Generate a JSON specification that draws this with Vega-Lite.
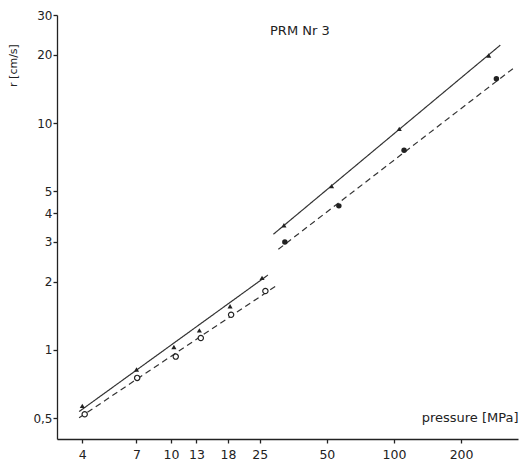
{
  "$schema": "https://vega.github.io/schema/vega-lite/v6.json",
  "width": 461,
  "height": 424,
  "autosize": "none",
  "padding": {"left": 57, "top": 15, "right": 14, "bottom": 26},
  "background": "white",
  "config": {
    "view": {"stroke": null},
    "font": "DejaVu Sans",
    "axis": {
      "grid": false,
      "domainColor": "#222",
      "domainWidth": 1.3,
      "tickColor": "#222",
      "tickWidth": 1.3,
      "tickSize": 4,
      "labelColor": "#222",
      "labelFont": "DejaVu Sans",
      "labelFontSize": 12,
      "titleFont": "DejaVu Sans",
      "titleColor": "#222",
      "titleFontWeight": "normal"
    }
  },
  "datasets": {
    "lines": [
      {"seg": "A", "style": "solid", "p": 3.87, "r": 0.535},
      {"seg": "A", "style": "solid", "p": 27.2, "r": 2.14},
      {"seg": "B", "style": "dashed", "p": 3.87, "r": 0.502},
      {"seg": "B", "style": "dashed", "p": 29.9, "r": 1.93},
      {"seg": "C", "style": "solid", "p": 28.8, "r": 3.24},
      {"seg": "C", "style": "solid", "p": 300, "r": 22.1},
      {"seg": "D", "style": "dashed", "p": 30.3, "r": 2.78},
      {"seg": "D", "style": "dashed", "p": 352, "r": 17.8}
    ],
    "points": [
      {"kind": "triangle", "p": 4, "r": 0.567},
      {"kind": "triangle", "p": 7, "r": 0.82},
      {"kind": "triangle", "p": 10.3, "r": 1.03},
      {"kind": "triangle", "p": 13.4, "r": 1.22},
      {"kind": "triangle", "p": 18.4, "r": 1.56},
      {"kind": "triangle", "p": 25.6, "r": 2.08},
      {"kind": "triangle", "p": 32.1, "r": 3.55},
      {"kind": "triangle", "p": 52.5, "r": 5.28},
      {"kind": "triangle", "p": 105.6, "r": 9.44},
      {"kind": "triangle", "p": 266, "r": 19.9},
      {"kind": "open", "p": 4.1, "r": 0.521},
      {"kind": "open", "p": 7.05, "r": 0.753},
      {"kind": "open", "p": 10.5, "r": 0.935},
      {"kind": "open", "p": 13.6, "r": 1.13},
      {"kind": "open", "p": 18.6, "r": 1.43},
      {"kind": "open", "p": 26.5, "r": 1.82},
      {"kind": "filled", "p": 32.4, "r": 2.99},
      {"kind": "filled", "p": 56.6, "r": 4.32},
      {"kind": "filled", "p": 111, "r": 7.6},
      {"kind": "filled", "p": 288, "r": 15.7}
    ],
    "title": [{"label": "PRM  Nr 3", "p": 27.8, "r": 25.4}]
  },
  "encoding": {
    "x": {
      "field": "p",
      "type": "quantitative",
      "scale": {"type": "log", "domain": [3.08, 360], "nice": false},
      "axis": {
        "values": [4, 7, 10, 13, 18, 25, 50, 100, 200],
        "format": "~g",
        "labelPadding": 5,
        "labelFontSize": 12.5,
        "title": "pressure [MPa]",
        "titleFontSize": 13,
        "titleX": 461,
        "titleY": -22,
        "titleAlign": "right",
        "titleBaseline": "middle"
      }
    },
    "y": {
      "field": "r",
      "type": "quantitative",
      "scale": {"type": "log", "domain": [0.405, 30], "nice": false},
      "axis": {
        "values": [0.5, 1, 2, 3, 4, 5, 10, 20, 30],
        "labelExpr": "replace(format(datum.value, '~g'), '.', ',')",
        "labelPadding": 1,
        "title": "r [cm/s]",
        "titleFontSize": 11,
        "titleAngle": -90,
        "titleX": -44,
        "titleY": 50,
        "titleAlign": "center",
        "titleBaseline": "middle"
      }
    }
  },
  "layer": [
    {
      "data": {"name": "lines"},
      "mark": {"type": "line", "color": "#333", "strokeWidth": 1.2},
      "encoding": {
        "detail": {"field": "seg"},
        "strokeDash": {
          "field": "style",
          "type": "nominal",
          "scale": {"domain": ["solid", "dashed"], "range": [[1, 0], [6, 4]]},
          "legend": null
        }
      }
    },
    {
      "data": {"name": "points"},
      "transform": [{"filter": "datum.kind == 'triangle'"}],
      "mark": {"type": "point", "shape": "triangle-up", "filled": true, "color": "#222", "size": 26, "opacity": 1}
    },
    {
      "data": {"name": "points"},
      "transform": [{"filter": "datum.kind == 'open'"}],
      "mark": {"type": "point", "shape": "circle", "filled": true, "fill": "white", "stroke": "#222", "strokeWidth": 1.2, "size": 28, "opacity": 1}
    },
    {
      "data": {"name": "points"},
      "transform": [{"filter": "datum.kind == 'filled'"}],
      "mark": {"type": "point", "shape": "circle", "filled": true, "color": "#222", "size": 30, "opacity": 1}
    },
    {
      "data": {"name": "title"},
      "mark": {"type": "text", "align": "left", "baseline": "middle", "fontSize": 13, "color": "#222", "font": "DejaVu Sans"},
      "encoding": {"text": {"field": "label"}}
    }
  ]
}
